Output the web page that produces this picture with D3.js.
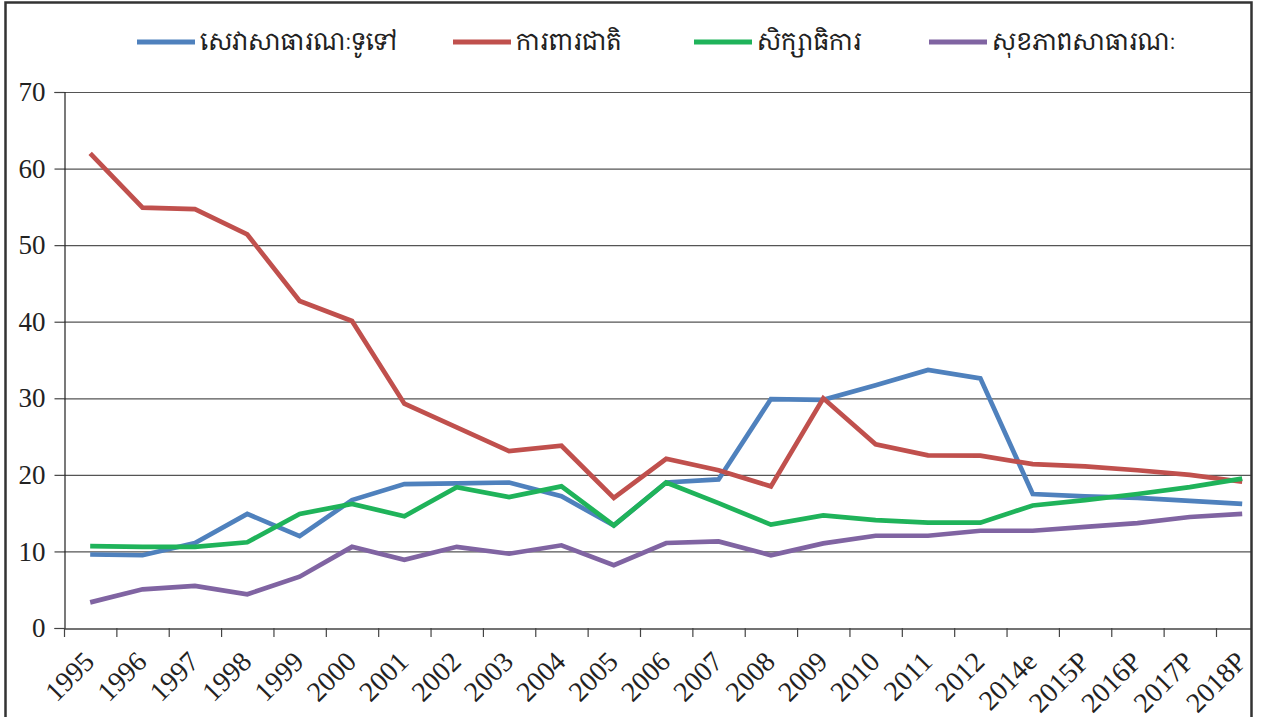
<!DOCTYPE html>
<html><head><meta charset="utf-8">
<script src="https://cdn.jsdelivr.net/npm/d3@7/dist/d3.min.js"></script>
<style>
html,body{margin:0;padding:0;background:#fff;}
svg{display:block;}
</style>
</head><body>
<svg id="chart" width="1261" height="717"></svg>
<script>
const categories = ["1995","1996","1997","1998","1999","2000","2001","2002","2003","2004","2005","2006","2007","2008","2009","2010","2011","2012","2014e","2015P","2016P","2017P","2018P"];
const seriesNames = ["សេវាសាធារណៈទូទៅ","ការពារជាតិ","សិក្សាធិការ","សុខភាពសាធារណៈ"];
const seriesColors = ["#4F81BD","#C0504D","#1FB35A","#8064A2"];
const generalServices = [9.6,9.5,11.1,14.9,12.0,16.7,18.8,18.9,19.0,17.2,13.4,19.0,19.4,29.9,29.8,31.7,33.7,32.6,17.5,17.2,17.0,16.6,16.2];
const defense = [62.0,54.9,54.7,51.4,42.7,40.1,29.3,26.2,23.1,23.8,17.0,22.1,20.6,18.5,30.0,24.0,22.55,22.5,21.4,21.1,20.6,20.0,19.1];
const education = [10.7,10.6,10.6,11.2,14.9,16.2,14.6,18.4,17.1,18.5,13.4,19.0,16.3,13.5,14.7,14.1,13.75,13.75,16.0,16.7,17.5,18.4,19.5];
const health = [3.35,5.05,5.5,4.4,6.7,10.6,8.9,10.6,9.7,10.8,8.2,11.1,11.3,9.5,11.05,12.05,12.05,12.7,12.7,13.2,13.7,14.5,14.9];
const yTicks = [0,10,20,30,40,50,60,70];

(function(){
const series = [generalServices, defense, education, health];

const svg = d3.select("#chart");
const mLeft = 64, mTop = 92, mBottom = 628, plotRightClip = 1251;
const band = (1216 - 64) / 22;
const x = d3.scaleBand().domain(categories).range([mLeft, mLeft + band * categories.length]).padding(0);
const y = d3.scaleLinear().domain([0,70]).range([mBottom, mTop]);

const serif = "'Liberation Serif','DejaVu Serif',serif";
const khmerFont = "'Noto Serif Khmer','Noto Sans Khmer','Khmer OS','Khmer OS System','Hanuman','DejaVu Sans',sans-serif";

svg.append("defs").append("clipPath").attr("id","clip")
  .append("rect").attr("x",0).attr("y",0).attr("width",plotRightClip).attr("height",717);

const g = svg.append("g").attr("clip-path","url(#clip)");

// gridlines
g.append("g").selectAll("line").data(yTicks.filter(d=>d>0)).join("line")
  .attr("x1", mLeft).attr("x2", plotRightClip)
  .attr("y1", d=>y(d)+0.5).attr("y2", d=>y(d)+0.5)
  .attr("stroke","#555").attr("stroke-width",1.2);

// y axis
const yAxis = d3.axisLeft(y).tickValues(yTicks).tickSize(10).tickPadding(9);
const ya = g.append("g").attr("transform",`translate(${mLeft+0.5},0)`).call(yAxis);
ya.select(".domain").attr("stroke","#222").attr("stroke-width",1.2);
ya.selectAll(".tick line").attr("stroke","#444").attr("stroke-width",1.2);
ya.selectAll(".tick text").attr("font-family",serif).attr("font-size",27).attr("fill","#222");

// x axis
const xAxis = d3.axisBottom(x).tickSize(0).tickFormat(d=>d);
const xa = g.append("g").attr("transform",`translate(0,${mBottom+0.5})`).call(xAxis);
xa.select(".domain").attr("stroke","#444").attr("stroke-width",1.5);
g.append("g").selectAll("line").data(categories).join("line")
  .attr("x1", d=>x(d)+0.5).attr("x2", d=>x(d)+0.5)
  .attr("y1", mBottom).attr("y2", mBottom+9)
  .attr("stroke","#444").attr("stroke-width",1.2);
xa.selectAll(".tick text")
  .attr("font-family",serif).attr("font-size",28).attr("fill","#222")
  .attr("text-anchor","end")
  .attr("transform", "translate(-12,17) rotate(-45)")
  .attr("dy","0.9em").attr("y",0);

// lines
const line = d3.line().x((d,i)=>x(categories[i]) + x.bandwidth()/2).y(d=>y(d));
g.append("g").selectAll("path").data(series).join("path")
  .attr("d", d=>line(d))
  .attr("fill","none")
  .attr("stroke",(d,i)=>seriesColors[i])
  .attr("stroke-width",4.7)
  .attr("stroke-linejoin","miter")
  .attr("stroke-linecap","butt");

// legend
const legendX = [137, 453, 694, 929];
const lg = svg.append("g").selectAll("g").data(seriesNames).join("g")
  .attr("transform",(d,i)=>`translate(${legendX[i]},42)`);
lg.append("line").attr("x1",0).attr("x2",58).attr("y1",0).attr("y2",0)
  .attr("stroke",(d,i)=>seriesColors[i]).attr("stroke-width",5);
lg.append("text").attr("x",63).attr("y",0).attr("dy","0.35em")
  .attr("font-family",khmerFont).attr("font-size",24).attr("fill","#222")
  .text(d=>d);

// border
svg.append("path")
  .attr("d",`M5.5,717 V2.5 H1251.5 V717`)
  .attr("fill","none").attr("stroke","#333").attr("stroke-width",2.5);
})();
</script>
</body></html>
